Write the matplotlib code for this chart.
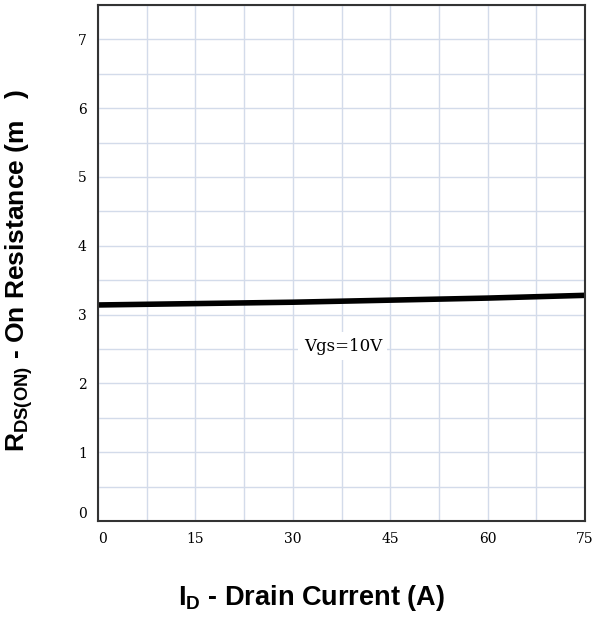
import matplotlib
matplotlib.use("Agg")
import matplotlib.pyplot as plt
import numpy as np

plt.rcParams["mathtext.fontset"] = "custom"
plt.rcParams["mathtext.rm"] = "Liberation Sans"
plt.rcParams["mathtext.bf"] = "Liberation Sans:bold"

# data
current = [0, 15, 30, 45, 60, 75]
rdson = [3.14, 3.16, 3.18, 3.21, 3.24, 3.28]
xticks = [0, 15, 30, 45, 60, 75]
yticks = [0, 1, 2, 3, 4, 5, 6, 7]

fig = plt.figure(figsize=(6.0, 6.19), dpi=100)
ax = fig.add_axes([98/600, 98/619, 487/600, 516/619])

ax.set_xlim(0, 75)
ax.set_ylim(0, 7.5)
ax.set_xticks(np.arange(0, 75.1, 7.5), minor=True)
ax.set_yticks(np.arange(0, 7.6, 0.5), minor=True)
ax.grid(True, which="both", color="#d3dbea", linewidth=1.0)
ax.set_xticks(xticks)
ax.set_yticks(yticks)
ax.set_xticklabels([str(v) for v in xticks], family="DejaVu Serif", fontsize=10)
ax.set_yticklabels([str(v) for v in yticks], family="DejaVu Serif", fontsize=10)
ax.tick_params(which="both", length=0, pad=8)
ax.set_axisbelow(True)
# the zero labels sit a little inside the corner, as in the datasheet
ax.get_xticklabels()[0].set_ha("left")
ax.get_yticklabels()[0].set_va("bottom")
for s in ax.spines.values():
    s.set_color("#333333")
    s.set_linewidth(1.5)

ax.plot(current, rdson, color="black", linewidth=4.0, solid_capstyle="butt")

ax.text(37.7, 2.54, "Vgs=10V", family="DejaVu Serif", fontsize=12,
        ha="center", va="center",
        bbox=dict(facecolor="white", edgecolor="none", pad=4))

fig.text(19/600, 1 - 270/619, r"R$_{\mathbf{DS(ON)}}$ - On Resistance (m   )",
         rotation=90, ha="center", va="center", family="Liberation Sans",
         fontweight="bold", fontsize=19)
fig.text(311/600, 1 - 598/619, r"I$_{\mathbf{D}}$ - Drain Current (A)",
         ha="center", va="center", family="Liberation Sans",
         fontweight="bold", fontsize=19.5)

fig.savefig("out.png", dpi=100)
